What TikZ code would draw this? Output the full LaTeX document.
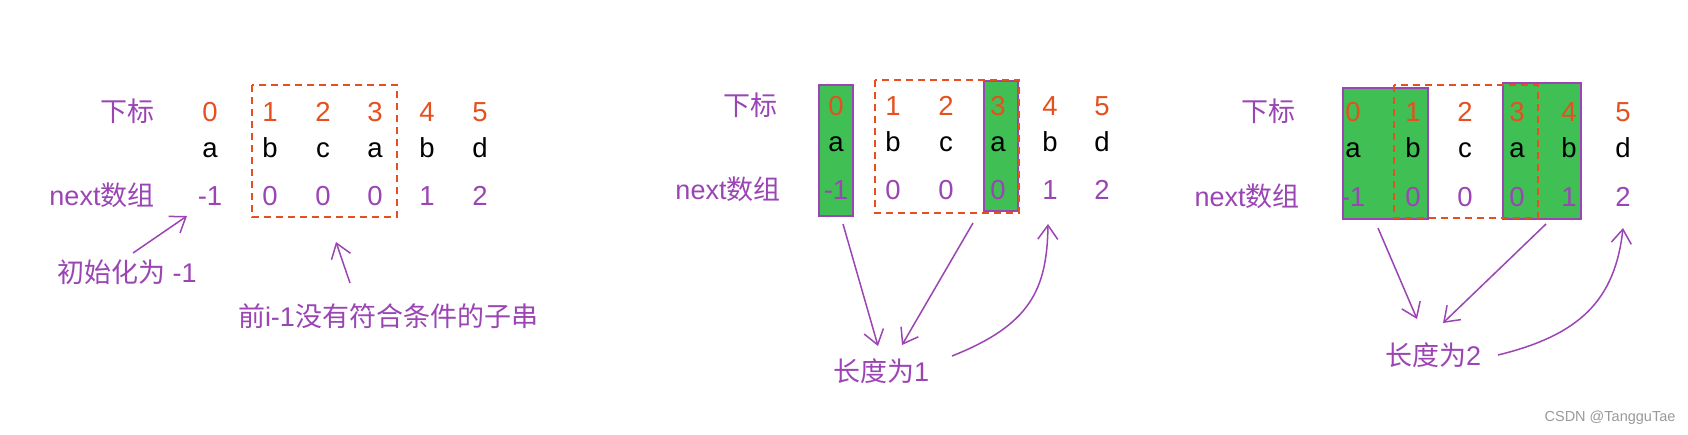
\documentclass[tikz,border=0pt]{standalone}
\usepackage{fontspec}
\setmainfont{Liberation Sans}
\newfontfamily\zhfont{Noto Sans CJK SC}
\usetikzlibrary{arrows.meta}
\definecolor{idx}{HTML}{E5501E}
\definecolor{pur}{HTML}{9B45B5}
\definecolor{grn}{HTML}{40BF55}
\definecolor{gry}{HTML}{9A9A9A}
\begin{document}
\begin{tikzpicture}[x=1pt,y=-1pt,
  every node/.style={inner sep=0pt, anchor=base},
  txt/.style={font=\fontsize{27.5}{32}\selectfont},
  idxt/.style={txt, text=idx},
  chr/.style={txt, text=black},
  nxt/.style={txt, text=pur},
  lbl/.style={font=\fontsize{27}{32}\selectfont, text=pur},
  gbox/.style={fill=grn, draw=pur, line width=1.8pt},
  dbox/.style={draw=idx, dash pattern=on 7pt off 5pt, line width=2pt},
  arr/.style={draw=pur, line width=1.5pt, -{Straight Barb[length=14pt,width=20pt]}},
  wm/.style={font=\fontsize{14.5}{16}\selectfont, text=gry, anchor=center}]
\fill[white] (0,0) rectangle (1688,434);
\useasboundingbox (0,0) rectangle (1688,434);

% ---------- boxes ----------
\draw[gbox] (819,85) rectangle (853,216);
\draw[gbox] (984,81) rectangle (1018,211);
\draw[gbox] (1343,88) rectangle (1428,219);
\draw[gbox] (1503,83) rectangle (1581,219);
\draw[dbox] (252,85) rectangle (397,217);
\draw[dbox] (875,80) rectangle (1019,213);
\draw[dbox] (1394,85) rectangle (1538,218);

% ---------- left panel ----------
\node[lbl] (L-t) at (127,121) {\zhfont 下标};
\node[lbl] (L-n) at (102,205) {next{\zhfont 数组}};
\foreach \x/\c/\n [count=\i from 0] in {210/a/-1,270/b/0,323/c/0,375/a/0,427/b/1,480/d/2}{
  \node[idxt] (L-i\i) at (\x,121) {\i};
  \node[chr] (L-c\i) at (\x,157) {\c};
  \node[nxt] (L-v\i) at (\x,205) {\n};
}
\node[lbl] (L-l1) at (127,282) {{\zhfont 初始化为} -1};
\node[lbl] (L-l2) at (388,326) {{\zhfont 前}i-1{\zhfont 没有符合条件的子串}};
\coordinate (L-a1s) at (133,253);
\coordinate (L-a1e) at (187,216);
\coordinate (L-a2s) at (350,283);
\coordinate (L-a2e) at (336,242);
\draw[arr] (L-a1s) -- (L-a1e);
\draw[arr] (L-a2s) -- (L-a2e);

% ---------- middle panel ----------
\node[lbl] (M-t) at (750,115) {\zhfont 下标};
\node[lbl] (M-n) at (728,199) {next{\zhfont 数组}};
\foreach \x/\c/\n [count=\i from 0] in {836/a/-1,893/b/0,946/c/0,998/a/0,1050/b/1,1102/d/2}{
  \node[idxt] (M-i\i) at (\x,115) {\i};
  \node[chr] (M-c\i) at (\x,151) {\c};
  \node[nxt] (M-v\i) at (\x,199) {\n};
}
\node[lbl] (M-l) at (881,381) {{\zhfont 长度为}1};
\coordinate (M-a1s) at (843,224);
\coordinate (M-a1e) at (878,346);
\coordinate (M-a2s) at (973,223);
\coordinate (M-a2e) at (902,345);
\coordinate (M-a3s) at (952,356);
\coordinate (M-a3e) at (1048,224);
\draw[arr] (M-a1s) -- (M-a1e);
\draw[arr] (M-a2s) -- (M-a2e);
\draw[arr] (M-a3s) .. controls (1030,325) and (1047,290) .. (M-a3e);

% ---------- right panel ----------
\node[lbl] (R-t) at (1268,121) {\zhfont 下标};
\node[lbl] (R-n) at (1247,206) {next{\zhfont 数组}};
\foreach \x/\c/\n [count=\i from 0] in {1353/a/-1,1413/b/0,1465/c/0,1517/a/0,1569/b/1,1623/d/2}{
  \node[idxt] (R-i\i) at (\x,121) {\i};
  \node[chr] (R-c\i) at (\x,157) {\c};
  \node[nxt] (R-v\i) at (\x,206) {\n};
}
\node[lbl] (R-l) at (1433,365) {{\zhfont 长度为}2};
\coordinate (R-a1s) at (1378,228);
\coordinate (R-a1e) at (1417,319);
\coordinate (R-a2s) at (1546,224);
\coordinate (R-a2e) at (1443,323);
\coordinate (R-a3s) at (1498,355);
\coordinate (R-a3e) at (1623,228);
\draw[arr] (R-a1s) -- (R-a1e);
\draw[arr] (R-a2s) -- (R-a2e);
\draw[arr] (R-a3s) .. controls (1580,335) and (1615,300) .. (R-a3e);

% ---------- watermark ----------
\node[wm] (wm) at (1610,418) {CSDN @TangguTae};
\end{tikzpicture}
\end{document}
